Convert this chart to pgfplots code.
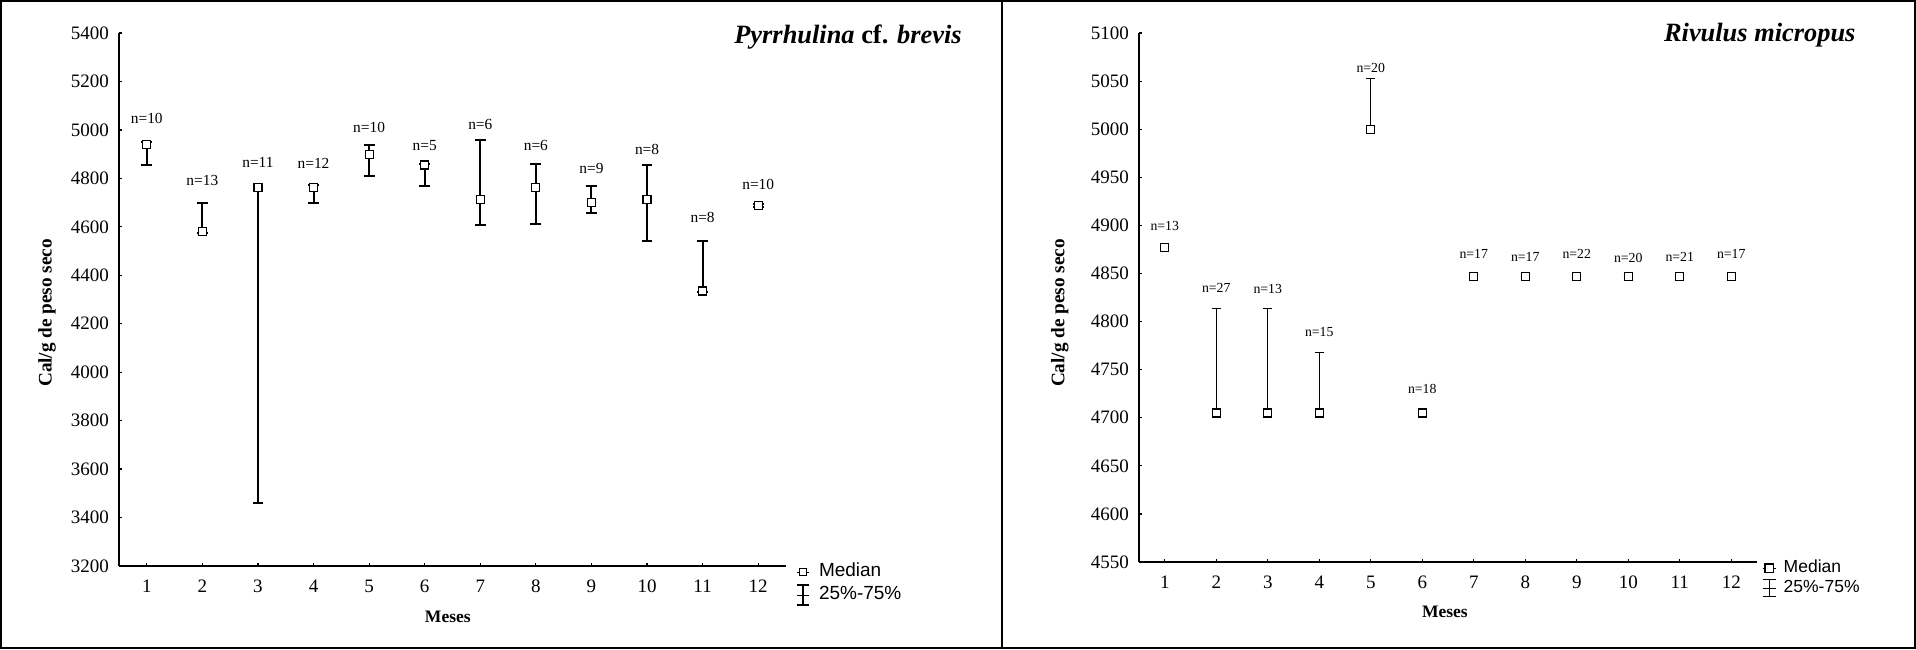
\documentclass[border=0pt]{standalone}
\usepackage{fontspec}
\setmainfont{Liberation Serif}
\setsansfont{Liberation Sans}
\usepackage{pgfplots}
\usepackage{pgfplotstable}
\pgfplotsset{compat=1.18}

\pgfplotstableread{
x med q1 q3 n ny
1 4940 4857 4950 10 5049
2 4580 4576 4697 13 4793
3 4763 3460 4768 11 4866
4 4763 4700 4772 12 4862
5 4898 4811 4936 10 5010
6 4855 4767 4860 5 4935
7 4714 4607 4960 6 5024
8 4763 4611 4861 6 4935
9 4701 4656 4767 9 4839
10 4714 4543 4855 8 4921
11 4335 4333 4543 8 4640
12 4688 4680 4696 10 4776
}\leftdata

\pgfplotstableread{
x med q1 q3 n ny
1 4877 4877 4878 13 4899
2 4705 4705 4814 27 4835
3 4705 4705 4814 13 4834
4 4705 4705 4768 15 4789
5 5000 5000 5053 20 5064
6 4705 4705 4705 18 4730
7 4847 4847 4847 17 4870
8 4847 4847 4847 17 4867
9 4847 4847 4847 22 4870
10 4847 4847 4847 20 4866
11 4847 4847 4847 21 4867
12 4847 4847 4847 17 4870
}\rightdata

\pgfplotsset{
  common/.style={
    scale only axis, clip=false,
    xmin=0.5, xmax=12.5, xtick={1,...,12},
    axis x line*=bottom, axis y line*=left,
    tick align=inside, major tick length=1.5pt,
    every tick/.style={black, line width=0.6pt},
    /pgf/number format/assume math mode=true,
    /pgf/number format/1000 sep={},
    ticklabel style={font=\fontsize{9.5}{10}\selectfont},
    xticklabel style={yshift=-3.5pt},
    yticklabel style={xshift=-1.5pt},
    xlabel={Meses},
    ylabel={Cal/g de peso seco},
    xlabel style={anchor=center, font=\bfseries\fontsize{8.75}{10}\selectfont},
    ylabel style={anchor=center, font=\bfseries\fontsize{9.6}{10}\selectfont},
    title style={anchor=base east, inner sep=0pt, font=\bfseries\fontsize{13.2}{14}\selectfont},
  }
}

\begin{document}
\begin{tikzpicture}
\useasboundingbox (0,0) rectangle (958pt,324.5pt);
\draw[line width=1.2pt] (0.6pt,0.6pt) rectangle (957.4pt,323.9pt);
\draw[line width=1.2pt] (501pt,0pt) -- (501pt,324.5pt);

% ---------------- left panel ----------------
\begin{axis}[common,
  at={(59.5pt,41.5pt)}, anchor=south west,
  width=333.5pt, height=266.5pt,
  ymin=3200, ymax=5400, ytick={3200,3400,...,5400},
  axis line style={-, line width=1pt},
  xlabel style={at={(axis description cs:0.493,-0.0957)}},
  ylabel style={at={(axis description cs:-0.108,0.4747)}},
  title={\textit{Pyrrhulina} cf. \textit{brevis}},
  title style={at={(axis description cs:1.264,0.9587)}},
  legend style={at={(axis cs:12.5,3200)}, anchor=north west, xshift=5pt, yshift=2.8pt,
    draw=none, fill=none, inner sep=0pt, outer sep=0pt,
    font=\sffamily\fontsize{9.5}{11}\selectfont,
    row sep=0pt,
    nodes={inner sep=1pt, text height=7pt, text depth=2.5pt},
    /tikz/every odd column/.append style={column sep=3.5pt}},
  legend cell align=left,
]
\addplot[draw=none, mark=none, forget plot,
  error bars/.cd, y dir=both, y explicit,
  error bar style={draw=black, line width=1pt, solid},
  error mark options={rotate=90, mark size=2.7pt, line width=1pt, draw=black}]
  table[x=x, y=med, y error plus expr=\thisrow{q3}-\thisrow{med}, y error minus expr=\thisrow{med}-\thisrow{q1}] {\leftdata};
\addplot[only marks, mark=square*, mark size=2pt, forget plot,
  mark options={fill=white, draw=black, line width=0.6pt}]
  table[x=x, y=med] {\leftdata};
\addplot[draw=none, mark=none, forget plot,
  point meta=explicit symbolic,
  nodes near coords={n=\pgfplotspointmeta},
  nodes near coords style={anchor=center, inner sep=0pt, font=\fontsize{7.7}{8}\selectfont}]
  table[x=x, y=ny, meta=n] {\leftdata};
\addlegendimage{legend image code/.code={\path (0pt,0pt) -- (6pt,0pt); \draw[line width=0.6pt, fill=white] (1.35pt,-1.65pt) rectangle (4.65pt,1.65pt);}}
\addlegendentry{Median}
\addlegendimage{legend image code/.code={\path (0pt,0pt) -- (6pt,0pt); \draw[line width=1pt] (3pt,-5pt) -- (3pt,5pt) (0pt,-5pt) -- (6pt,-5pt) (0pt,5pt) -- (6pt,5pt);}}
\addlegendentry{25\%-75\%}
\end{axis}

% ---------------- right panel ----------------
\begin{axis}[common,
  at={(569.5pt,43.5pt)}, anchor=south west,
  width=309pt, height=264.5pt,
  ymin=4550, ymax=5100, ytick={4550,4600,...,5100},
  axis line style={-, line width=0.6pt},
  xlabel style={at={(axis description cs:0.495,-0.094)}},
  ylabel style={at={(axis description cs:-0.128,0.4707)}},
  title={\textit{Rivulus micropus}},
  title style={at={(axis description cs:1.160,0.962)}},
  legend style={at={(axis cs:12.5,4550)}, anchor=north west, xshift=2.5pt, yshift=1.9pt,
    draw=none, fill=none, inner sep=0pt, outer sep=0pt,
    font=\sffamily\fontsize{8.75}{10}\selectfont,
    row sep=0pt,
    nodes={inner sep=0.75pt, text height=6.5pt, text depth=2pt},
    /tikz/every odd column/.append style={column sep=3pt}},
  legend cell align=left,
]
\addplot[draw=none, mark=none, forget plot,
  error bars/.cd, y dir=both, y explicit,
  error bar style={draw=black, line width=0.55pt, solid},
  error mark options={rotate=90, mark size=2.3pt, line width=0.55pt, draw=black}]
  table[x=x, y=med, y error plus expr=\thisrow{q3}-\thisrow{med}, y error minus expr=\thisrow{med}-\thisrow{q1}] {\rightdata};
\addplot[only marks, mark=square*, mark size=2pt, forget plot,
  mark options={fill=white, draw=black, line width=0.6pt}]
  table[x=x, y=med] {\rightdata};
\addplot[draw=none, mark=none, forget plot,
  point meta=explicit symbolic,
  nodes near coords={n=\pgfplotspointmeta},
  nodes near coords style={anchor=center, inner sep=0pt, font=\fontsize{6.9}{8}\selectfont}]
  table[x=x, y=ny, meta=n] {\rightdata};
\addlegendimage{legend image code/.code={\path (0pt,0pt) -- (6.5pt,0pt); \draw[line width=0.6pt, fill=white] (1.15pt,-2.1pt) rectangle (5.35pt,2.1pt);}}
\addlegendentry{Median}
\addlegendimage{legend image code/.code={\path (0pt,0pt) -- (6.5pt,0pt); \draw[line width=0.6pt] (3.25pt,-4.25pt) -- (3.25pt,4.25pt) (0pt,-4.25pt) -- (6.5pt,-4.25pt) (0pt,4.25pt) -- (6.5pt,4.25pt);}}
\addlegendentry{25\%-75\%}
\end{axis}
\end{tikzpicture}
\end{document}
